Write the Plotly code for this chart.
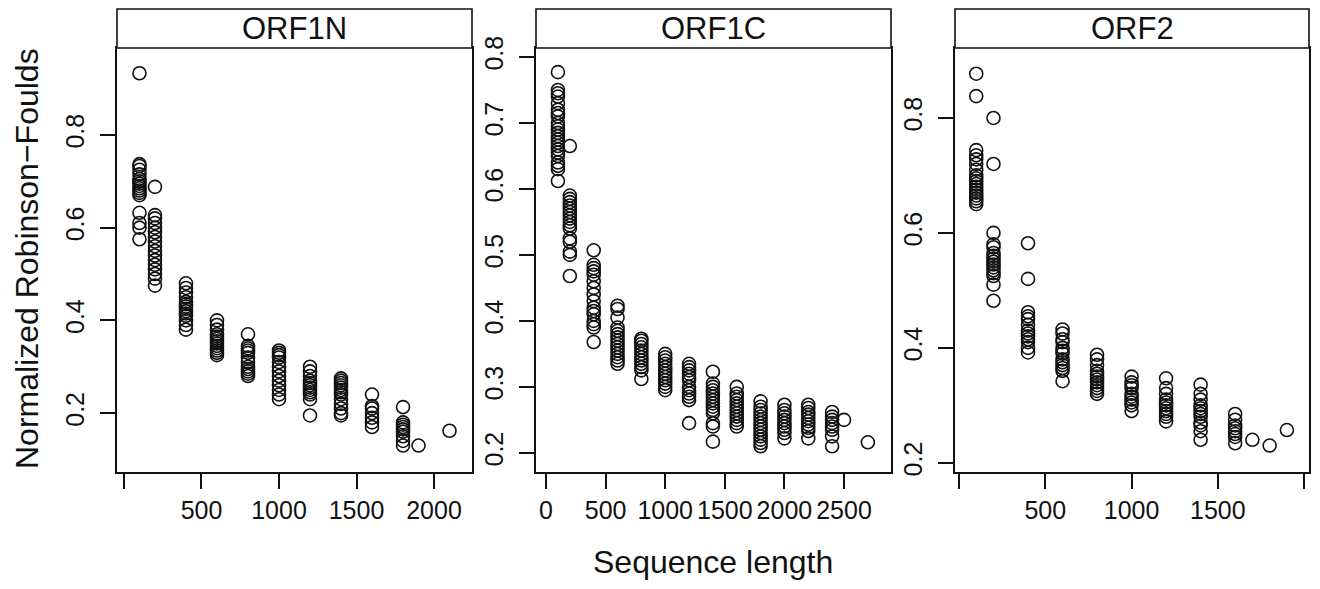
import plotly.graph_objects as go

# Sequence lengths and normalized RF distances
orf1n_x = [100, 200, 400, 600, 800, 1000, 1200, 1400, 1600, 1800, 1900, 2100]
orf1n_y = [
    [0.933, 0.737, 0.733, 0.725, 0.715, 0.705, 0.70, 0.695, 0.69, 0.685, 0.68, 0.675, 0.67, 0.632, 0.61, 0.60, 0.575],
    [0.688, 0.627, 0.62, 0.61, 0.60, 0.59, 0.58, 0.57, 0.56, 0.55, 0.54, 0.53, 0.52, 0.51, 0.50, 0.49, 0.475],
    [0.48, 0.47, 0.46, 0.45, 0.44, 0.435, 0.43, 0.425, 0.42, 0.415, 0.41, 0.40, 0.39, 0.38],
    [0.40, 0.39, 0.38, 0.37, 0.365, 0.36, 0.355, 0.35, 0.345, 0.34, 0.335, 0.33, 0.325],
    [0.37, 0.345, 0.34, 0.335, 0.33, 0.32, 0.31, 0.30, 0.295, 0.29, 0.285, 0.28],
    [0.335, 0.33, 0.325, 0.32, 0.31, 0.30, 0.29, 0.28, 0.27, 0.26, 0.25, 0.24, 0.23],
    [0.30, 0.29, 0.28, 0.27, 0.265, 0.26, 0.255, 0.25, 0.245, 0.24, 0.23, 0.195],
    [0.275, 0.27, 0.265, 0.26, 0.255, 0.25, 0.245, 0.24, 0.23, 0.22, 0.21, 0.20, 0.195],
    [0.24, 0.215, 0.21, 0.20, 0.19, 0.18, 0.17],
    [0.213, 0.18, 0.175, 0.17, 0.165, 0.16, 0.15, 0.14, 0.13],
    [0.13],
    [0.162],
]

orf1c_x = [100, 200, 400, 600, 800, 1000, 1200, 1400, 1600, 1800, 2000, 2200, 2400, 2500, 2700]
orf1c_y = [
    [0.777, 0.75, 0.745, 0.74, 0.73, 0.72, 0.715, 0.71, 0.70, 0.695, 0.69, 0.685, 0.68, 0.675, 0.67, 0.665, 0.66, 0.655, 0.65, 0.64, 0.635, 0.63, 0.612],
    [0.665, 0.59, 0.585, 0.58, 0.575, 0.57, 0.565, 0.56, 0.555, 0.55, 0.545, 0.54, 0.525, 0.52, 0.505, 0.50, 0.468],
    [0.507, 0.485, 0.48, 0.475, 0.47, 0.46, 0.45, 0.44, 0.43, 0.42, 0.415, 0.41, 0.40, 0.395, 0.39, 0.368],
    [0.423, 0.418, 0.405, 0.39, 0.385, 0.38, 0.375, 0.37, 0.365, 0.36, 0.355, 0.35, 0.345, 0.34, 0.335],
    [0.373, 0.37, 0.365, 0.36, 0.355, 0.35, 0.345, 0.34, 0.335, 0.33, 0.325, 0.312],
    [0.35, 0.345, 0.34, 0.335, 0.33, 0.325, 0.32, 0.315, 0.31, 0.305, 0.30, 0.295],
    [0.335, 0.33, 0.325, 0.32, 0.315, 0.31, 0.30, 0.295, 0.29, 0.285, 0.28, 0.245],
    [0.323, 0.305, 0.30, 0.295, 0.29, 0.285, 0.28, 0.275, 0.27, 0.265, 0.26, 0.245, 0.24, 0.217],
    [0.30, 0.29, 0.285, 0.28, 0.275, 0.27, 0.265, 0.26, 0.255, 0.25, 0.245, 0.24],
    [0.278, 0.27, 0.265, 0.26, 0.255, 0.25, 0.245, 0.24, 0.235, 0.23, 0.225, 0.22, 0.215, 0.21],
    [0.273, 0.265, 0.26, 0.255, 0.25, 0.245, 0.24, 0.235, 0.23, 0.222],
    [0.273, 0.268, 0.262, 0.258, 0.253, 0.248, 0.243, 0.238, 0.233, 0.222],
    [0.262, 0.255, 0.25, 0.245, 0.24, 0.235, 0.225, 0.21],
    [0.25],
    [0.216],
]

orf2_x = [100, 200, 400, 600, 800, 1000, 1200, 1400, 1600, 1700, 1800, 1900]
orf2_y = [
    [0.877, 0.838, 0.744, 0.735, 0.728, 0.72, 0.71, 0.70, 0.695, 0.69, 0.685, 0.68, 0.675, 0.67, 0.665, 0.66, 0.655, 0.65],
    [0.80, 0.72, 0.60, 0.58, 0.575, 0.565, 0.56, 0.555, 0.55, 0.545, 0.54, 0.535, 0.53, 0.525, 0.51, 0.482],
    [0.582, 0.52, 0.462, 0.455, 0.45, 0.44, 0.43, 0.425, 0.42, 0.415, 0.41, 0.40, 0.392],
    [0.432, 0.425, 0.415, 0.41, 0.40, 0.395, 0.39, 0.38, 0.375, 0.37, 0.365, 0.36, 0.342],
    [0.388, 0.38, 0.37, 0.36, 0.355, 0.35, 0.345, 0.34, 0.335, 0.33, 0.325, 0.32],
    [0.35, 0.34, 0.335, 0.33, 0.32, 0.315, 0.31, 0.305, 0.30, 0.29],
    [0.347, 0.33, 0.32, 0.31, 0.305, 0.30, 0.295, 0.29, 0.285, 0.28, 0.272],
    [0.336, 0.32, 0.31, 0.30, 0.295, 0.29, 0.285, 0.28, 0.27, 0.265, 0.255, 0.24],
    [0.285, 0.275, 0.265, 0.26, 0.255, 0.25, 0.245, 0.234],
    [0.24],
    [0.23],
    [0.257],
]

panel_names = ["ORF1N", "ORF1C", "ORF2"]

x_tickvals = [[0, 500, 1000, 1500, 2000],
              [0, 500, 1000, 1500, 2000, 2500],
              [0, 500, 1000, 1500, 2000]]
x_ticktext = [["", "500", "1000", "1500", "2000"],
              ["0", "500", "1000", "1500", "2000", "2500"],
              ["", "500", "1000", "1500", ""]]
y_tickvals = [[0.2, 0.4, 0.6, 0.8],
              [0.2, 0.3, 0.4, 0.5, 0.6, 0.7, 0.8],
              [0.2, 0.4, 0.6, 0.8]]
y_ticktext = [["0.2", "0.4", "0.6", "0.8"],
              ["0.2", "0.3", "0.4", "0.5", "0.6", "0.7", "0.8"],
              ["0.2", "0.4", "0.6", "0.8"]]

# the page body has an 8px margin, so the figure is drawn 8px in from the window edge
PAGE_MARGIN = 8
W, H = 1320 - 2 * PAGE_MARGIN, 589 - 2 * PAGE_MARGIN
FONT = "Liberation Sans, Arial, sans-serif"


def fx(px):
    # window pixel -> paper x
    return (px - PAGE_MARGIN) / W


def fy(py):
    # window pixel -> paper y
    return 1 - (py - PAGE_MARGIN) / H


# panel geometry in window pixels (left, right), shared top/bottom
panel_px = [(117, 472), (536, 891), (955, 1309)]
plot_top, plot_bottom, strip_top = 48, 472, 9
x_ranges = [[-45, 2245], [-84, 2894], [-23, 2028]]
y_ranges = [[0.073, 0.9875], [0.171, 0.8136], [0.184, 0.9217]]


def flatten(xs, groups):
    px, py = [], []
    for x, ys in zip(xs, groups):
        px += [x] * len(ys)
        py += ys
    return px, py


fig = go.Figure()
data = [flatten(orf1n_x, orf1n_y), flatten(orf1c_x, orf1c_y), flatten(orf2_x, orf2_y)]

for i, (px, py) in enumerate(data):
    suffix = "" if i == 0 else str(i + 1)
    fig.add_trace(go.Scatter(
        x=px, y=py, mode="markers", xaxis="x" + suffix, yaxis="y" + suffix,
        marker=dict(symbol="circle-open", size=13, color="#111",
                    line=dict(color="#111", width=1.6)),
        showlegend=False, hoverinfo="skip"))

    left, right = panel_px[i]
    axis_common = dict(showgrid=False, zeroline=False, showline=True, mirror=True,
                       automargin=False,
                       linecolor="#111", linewidth=1.6, ticks="outside",
                       ticklen=15, tickwidth=1.6, tickcolor="#111",
                       tickfont=dict(family=FONT, size=25, color="#111"))
    fig.update_layout({
        "xaxis" + suffix: dict(domain=[fx(left), fx(right)], range=x_ranges[i],
                               anchor="y" + suffix,
                               tickvals=x_tickvals[i], ticktext=x_ticktext[i],
                               ticklabelstandoff=0, **axis_common),
        "yaxis" + suffix: dict(domain=[fy(plot_bottom), fy(plot_top)], range=y_ranges[i],
                               anchor="x" + suffix,
                               tickvals=y_tickvals[i], ticktext=y_ticktext[i],
                               tickangle=-90, ticklabelstandoff=6, **axis_common),
    })

    # strip above each panel
    fig.add_shape(type="rect", xref="paper", yref="paper",
                  x0=fx(left), x1=fx(right), y0=fy(plot_top), y1=fy(strip_top),
                  line=dict(color="#111", width=1.6), fillcolor="white")
    fig.add_annotation(text=panel_names[i], xref="paper", yref="paper",
                       x=fx((left + right) / 2), y=fy((plot_top + strip_top) / 2),
                       xanchor="center", yanchor="middle", showarrow=False,
                       font=dict(family=FONT, size=31, color="#111"))

# shared axis titles
fig.add_annotation(text="Sequence length", xref="paper", yref="paper",
                   x=fx(713), y=fy(562), xanchor="center", yanchor="middle",
                   showarrow=False, font=dict(family=FONT, size=32, color="#111"))
fig.add_annotation(text="Normalized Robinson\u2212Foulds", xref="paper", yref="paper",
                   x=fx(27), y=fy(259), xanchor="center", yanchor="middle",
                   showarrow=False, textangle=-90,
                   font=dict(family=FONT, size=32, color="#111"))

fig.update_layout(width=W, height=H, margin=dict(l=0, r=0, t=0, b=0),
                  paper_bgcolor="white", plot_bgcolor="white")

fig.write_html("out.html")
